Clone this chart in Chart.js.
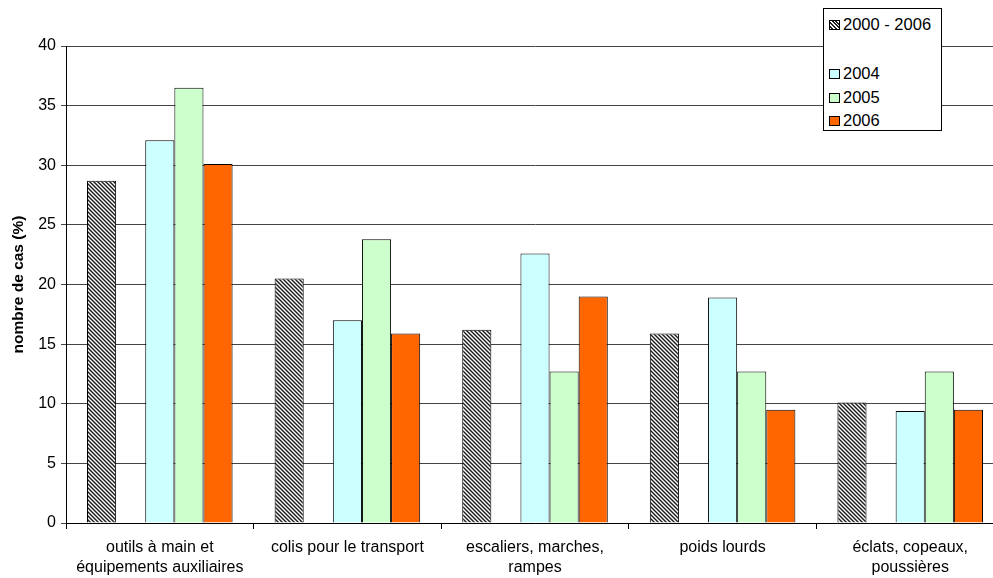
<!DOCTYPE html>
<html>
<head>
<meta charset="utf-8">
<script src="https://cdn.jsdelivr.net/npm/chart.js@4"></script>
<style>
  html, body { margin: 0; padding: 0; overflow: hidden; background: #fff; }
  #wrap { position: absolute; left: 0; top: 0; width: 1012px; height: 578px; }
  #legend {
    position: absolute; left: 823px; top: 8px; width: 117px; height: 121px;
    border: 1px solid #000; background: #fff;
    font-family: "Liberation Sans", Arial, sans-serif; font-size: 16.5px; color: #000;
  }
  .item { position: absolute; left: 5px; height: 20px; line-height: 20px; white-space: nowrap; }
  .sw { display: inline-block; width: 9px; height: 8px; border: 1px solid #000; margin-right: 3px; vertical-align: 0px; }
</style>
</head>
<body>
<div id="wrap"><canvas id="chart" width="1012" height="578"></canvas></div>
<div id="legend">
  <div class="item" style="top:5px"><span class="sw" style="background:repeating-linear-gradient(45deg,#fff 0 1.3px,#222 1.3px 2.6px)"></span>2000 - 2006</div>
  <div class="item" style="top:54px"><span class="sw" style="background:#CCFFFF"></span>2004</div>
  <div class="item" style="top:78px"><span class="sw" style="background:#CCFFCC"></span>2005</div>
  <div class="item" style="top:101px"><span class="sw" style="background:#FF6600"></span>2006</div>
</div>
<script>
// categories and series
const categories = [
  ["outils à main et", "équipements auxiliaires"],
  "colis pour le transport",
  ["escaliers, marches,", "rampes"],
  "poids lourds",
  ["éclats, copeaux,", "poussières"]
];
const avg2000_2006 = [28.7, 20.5, 16.2, 15.9, 10.1];
const blank = [null, null, null, null, null];
const y2004 = [32.1, 17.0, 22.6, 18.9, 9.4];
const y2005 = [36.5, 23.8, 12.7, 12.7, 12.7];
const y2006 = [30.1, 15.9, 19.0, 9.5, 9.5];
const yTicks = [0, 5, 10, 15, 20, 25, 30, 35, 40];

const FONT = "'Liberation Sans', Arial, sans-serif";

// hatched fill for the 2000 - 2006 bars
function makeHatch() {
  const c = document.createElement("canvas");
  c.width = 4; c.height = 4;
  const g = c.getContext("2d");
  g.fillStyle = "#fff";
  g.fillRect(0, 0, 4, 4);
  g.strokeStyle = "#1a1a1a";
  g.lineWidth = 1.4;
  g.beginPath();
  g.moveTo(-1, -1); g.lineTo(5, 5);
  g.moveTo(-1, 3); g.lineTo(1, 5);
  g.moveTo(3, -1); g.lineTo(5, 1);
  g.stroke();
  return g.createPattern(c, "repeat");
}

const ctx = document.getElementById("chart").getContext("2d");
const barChart = new Chart(ctx, {
  type: "bar",
  data: {
    labels: categories,
    datasets: [
      { label: "2000 - 2006", data: avg2000_2006, backgroundColor: makeHatch() },
      { label: "", data: blank, backgroundColor: "#fff" },
      { label: "2004", data: y2004, backgroundColor: "#CCFFFF" },
      { label: "2005", data: y2005, backgroundColor: "#CCFFCC" },
      { label: "2006", data: y2006, backgroundColor: "#FF6600" }
    ].map(d => Object.assign(d, { borderColor: "#000", borderWidth: 1 }))
  },
  options: {
    responsive: false,
    animation: false,
    devicePixelRatio: 1,
    layout: { padding: { top: 46, right: 8, left: 0, bottom: 0 } },
    datasets: { bar: { categoryPercentage: 0.776, barPercentage: 1.0 } },
    plugins: { legend: { display: false }, tooltip: { enabled: false } },
    scales: {
      x: {
        grid: { drawOnChartArea: false, drawTicks: true, tickLength: 6, color: "#000", offset: true },
        border: { color: "#000", width: 1 },
        ticks: { color: "#000", font: { family: FONT, size: 16, lineHeight: 1.25 }, padding: 9, maxRotation: 0, autoSkip: false },
        afterFit: s => { s.height = 55; }
      },
      y: {
        min: 0, max: 40,
        afterBuildTicks: s => { s.ticks = yTicks.map(v => ({ value: v })); },
        grid: { color: "#444", lineWidth: 1, drawTicks: true, tickLength: 5 },
        border: { color: "#000", width: 1 },
        ticks: { color: "#000", font: { family: FONT, size: 16 }, padding: 5 },
        title: { display: true, text: "nombre de cas (%)", color: "#000", font: { family: FONT, size: 15.5, weight: "bold" }, padding: { top: 9, bottom: 0 } },
        afterFit: s => { s.width = 66; }
      }
    }
  }
});
</script>
</body>
</html>
